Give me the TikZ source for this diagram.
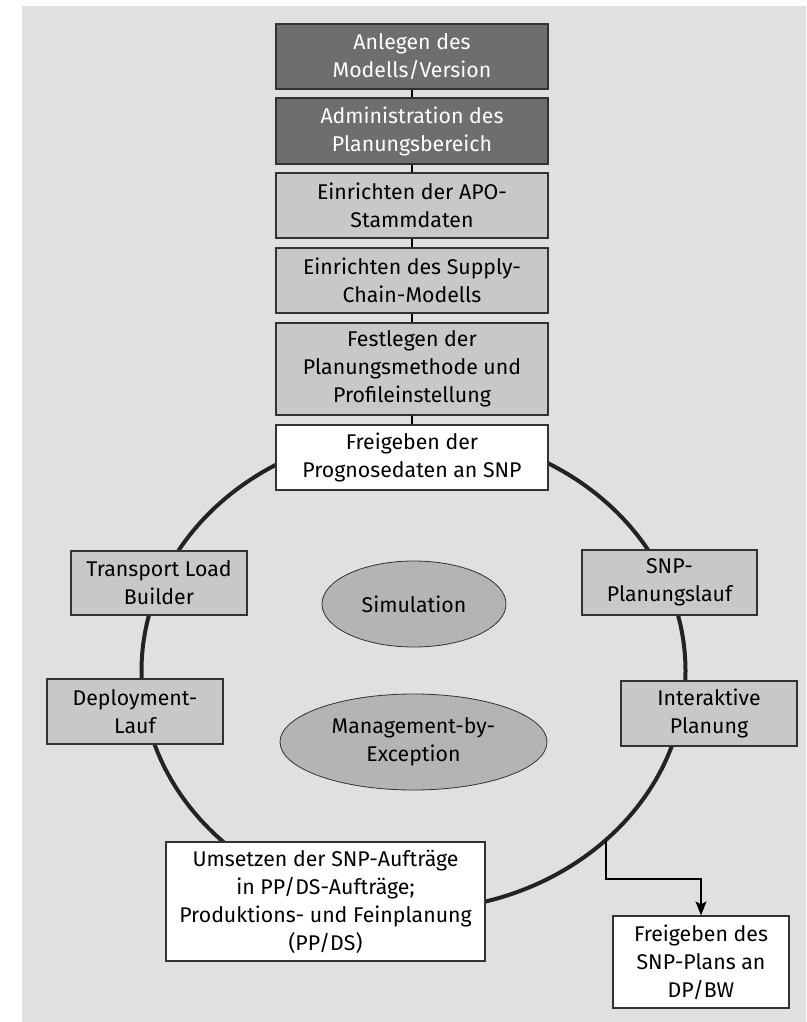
\documentclass[tikz,border=0pt]{standalone}
\usepackage{fontspec}
\setmainfont{Fira Sans}
\usetikzlibrary{arrows.meta,shapes.geometric}
\definecolor{bg}{RGB}{224,224,224}
\definecolor{darkbox}{RGB}{110,110,110}
\definecolor{lightbox}{RGB}{200,200,200}
\definecolor{ellfill}{RGB}{180,180,180}
\definecolor{edge}{RGB}{50,50,50}
\definecolor{ringcol}{RGB}{35,35,35}
\begin{document}
\begin{tikzpicture}[x=1pt,y=-1pt,
  txt/.style={font=\fontsize{21.3}{28}\selectfont},
  box/.style={draw=edge,line width=1.2pt,rectangle,align=center,inner sep=0pt,txt,text=black},
  darkb/.style={box,fill=darkbox,text=white},
  lightb/.style={box,fill=lightbox},
  whiteb/.style={box,fill=white},
  oval/.style={draw=edge,line width=0.8pt,ellipse,fill=ellfill,align=center,inner sep=0pt,txt},
  link/.style={line width=1.6pt,black},
  ringst/.style={draw=ringcol,line width=4pt,ellipse,inner sep=0pt,outer sep=0pt}]
\useasboundingbox (0,0) rectangle (806,1022);
\fill[white] (0,0) rectangle (806,1022);
\fill[bg] (22,6) rectangle (806,1022);

% ring
\node[ringst,minimum width=544pt,minimum height=478pt] (ring) at (413.5,671) {};

% stacked boxes
\node[darkb,minimum width=272pt,minimum height=65pt] (b1) at (412,56.5) {Anlegen des\\Modells/Version};
\node[darkb,minimum width=272pt,minimum height=66pt] (b2) at (412,131) {Administration des\\Planungsbereich};
\node[lightb,minimum width=272pt,minimum height=65pt] (b3) at (412,205.5) {Einrichten der APO-\\Stammdaten};
\node[lightb,minimum width=272pt,minimum height=65pt] (b4) at (412,280.5) {Einrichten des Supply-\\Chain-Modells};
\node[lightb,minimum width=272pt,minimum height=92pt] (b5) at (412,369) {Festlegen der\\Planungsmethode und\\Profileinstellung};
\node[whiteb,minimum width=272pt,minimum height=65pt] (b6) at (412,457.5) {Freigeben der\\Prognosedaten an SNP};

\draw[link] (b1.south) -- (b2.north);
\draw[link] (b2.south) -- (b3.north);
\draw[link] (b3.south) -- (b4.north);
\draw[link] (b4.south) -- (b5.north);
\draw[link] (b5.south) -- (b6.north);

% boxes on the ring
\node[lightb,minimum width=176pt,minimum height=64pt] (tlb) at (159,583) {Transport Load\\Builder};
\node[lightb,minimum width=176pt,minimum height=65pt] (dep) at (135,711.5) {Deployment-\\Lauf};
\node[lightb,minimum width=175pt,minimum height=65pt] (snp) at (669.5,582.5) {SNP-\\Planungslauf};
\node[lightb,minimum width=176pt,minimum height=65pt] (ip) at (709,713.5) {Interaktive\\Planung};
\node[whiteb,minimum width=319pt,minimum height=119pt] (ums) at (325.5,901.5) {Umsetzen der SNP-Aufträge\\in PP/DS-Aufträge;\\Produktions- und Feinplanung\\(PP/DS)};

% ellipses
\node[oval,minimum width=184pt,minimum height=86pt] (sim) at (414,604) {Simulation};
\node[oval,minimum width=267pt,minimum height=96pt] (mbe) at (413.5,742) {Management-by-\\Exception};

% release box and arrow
\node[whiteb,minimum width=176pt,minimum height=92pt] (frg) at (701,962) {Freigeben des\\SNP-Plans an\\DP/BW};
\coordinate (tap) at (606,841);
\draw[link,-{Stealth[length=14pt,width=11pt,inset=3pt]}] (tap) -- ++(0,38) -| (frg.north);
\end{tikzpicture}
\end{document}
